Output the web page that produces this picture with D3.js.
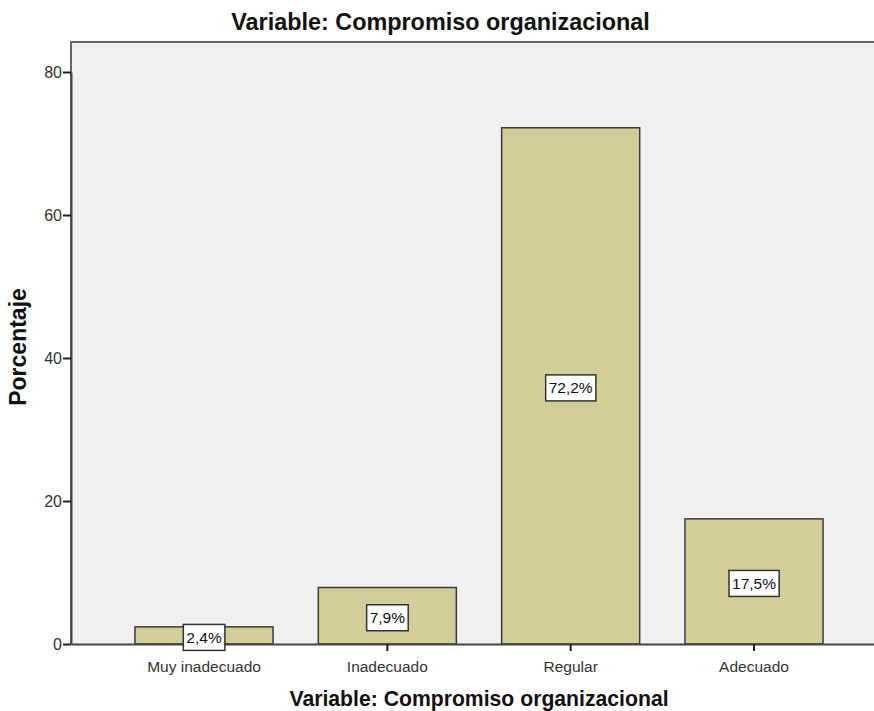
<!DOCTYPE html>
<html>
<head>
<meta charset="utf-8">
<script src="https://cdn.jsdelivr.net/npm/d3@7"></script>
<style>
  html, body { margin: 0; padding: 0; background: #ffffff; overflow: hidden; }
  svg { display: block; font-family: "Liberation Sans", Arial, sans-serif; }
</style>
</head>
<body>
<script>
// Frequency distribution of the variable (percent of respondents)
const categories = ["Muy inadecuado", "Inadecuado", "Regular", "Adecuado"];
const percentages = [2.4, 7.9, 72.2, 17.5];
const yTicks = [0, 20, 40, 60, 80];
const chartTitle = "Variable: Compromiso organizacional";
const xTitle = "Variable: Compromiso organizacional";
const yTitle = "Porcentaje";

const W = 874, H = 711;
const plot = { left: 71, top: 42, right: 887, bottom: 644 };
const FONT = "Liberation Sans, Arial, sans-serif";

const svg = d3.select("body").append("svg")
  .attr("width", W).attr("height", H);

const x = d3.scaleBand()
  .domain(categories)
  .range([plot.left, plot.right])
  .paddingInner(0.247)
  .paddingOuter(0.349);

const y = d3.scaleLinear()
  .domain([0, 80])
  .range([plot.bottom, 72]);

// plot background
svg.append("rect")
  .attr("x", plot.left).attr("y", plot.top)
  .attr("width", plot.right - plot.left).attr("height", plot.bottom - plot.top)
  .attr("fill", "#f0f0f0");

// bars
svg.append("g").selectAll("rect")
  .data(categories)
  .join("rect")
  .attr("x", d => x(d))
  .attr("y", (d, i) => y(percentages[i]))
  .attr("width", x.bandwidth())
  .attr("height", (d, i) => y(0) - y(percentages[i]))
  .attr("fill", "#d3ce97")
  .attr("stroke", "#3a3a3a")
  .attr("stroke-width", 1.5);

// frame: top and left edges
svg.append("path")
  .attr("d", `M${plot.left},${plot.bottom}V${plot.top}H${plot.right}`)
  .attr("fill", "none")
  .attr("stroke", "#666")
  .attr("stroke-width", 2);

// y axis
const yAxis = svg.append("g")
  .attr("transform", `translate(${plot.left},0)`)
  .call(d3.axisLeft(y).tickValues(yTicks).tickSize(8).tickSizeOuter(0).tickPadding(1));
yAxis.select(".domain").attr("stroke", "#444").attr("stroke-width", 2);
yAxis.selectAll(".tick line").attr("stroke", "#222").attr("stroke-width", 2);
yAxis.selectAll(".tick text")
  .attr("font-size", 16).attr("fill", "#333").attr("font-family", FONT);

// x axis
const xAxis = svg.append("g")
  .attr("transform", `translate(0,${plot.bottom})`)
  .call(d3.axisBottom(x).tickSize(7).tickSizeOuter(0).tickPadding(10));
xAxis.select(".domain").attr("stroke", "#444").attr("stroke-width", 2);
xAxis.selectAll(".tick line").attr("stroke", "#222").attr("stroke-width", 2);
xAxis.selectAll(".tick text")
  .attr("font-size", 15.5).attr("fill", "#333").attr("font-family", FONT);

// value labels in boxes, centered on each bar
const fmt = v => d3.format(".1f")(v).replace(".", ",") + "%";
const labels = svg.append("g").selectAll("g")
  .data(categories)
  .join("g")
  .attr("transform", (d, i) =>
    `translate(${x(d) + x.bandwidth() / 2},${(y(percentages[i]) + y(0)) / 2 + 2})`);

labels.append("text")
  .attr("text-anchor", "middle")
  .attr("dy", "0.36em")
  .attr("font-size", 15.5)
  .attr("fill", "#111")
  .text((d, i) => fmt(percentages[i]))
  .each(function () {
    const b = this.getBBox();
    d3.select(this.parentNode).insert("rect", "text")
      .attr("x", b.x - 3).attr("y", -13)
      .attr("width", b.width + 6).attr("height", 26)
      .attr("fill", "#ffffff")
      .attr("stroke", "#333")
      .attr("stroke-width", 1.5);
  });

// titles
svg.append("text")
  .attr("x", (232 + 649) / 2).attr("y", 30)
  .attr("text-anchor", "middle")
  .attr("font-size", 23.4).attr("font-weight", "bold").attr("fill", "#111")
  .text(chartTitle);

svg.append("text")
  .attr("x", (plot.left + plot.right) / 2).attr("y", 706)
  .attr("text-anchor", "middle")
  .attr("font-size", 21.2).attr("font-weight", "bold").attr("fill", "#111")
  .text(xTitle);

svg.append("text")
  .attr("transform", `translate(26,${(plot.top + plot.bottom) / 2 + 4}) rotate(-90)`)
  .attr("text-anchor", "middle")
  .attr("font-size", 23).attr("font-weight", "bold").attr("fill", "#111")
  .text(yTitle);
</script>
</body>
</html>
